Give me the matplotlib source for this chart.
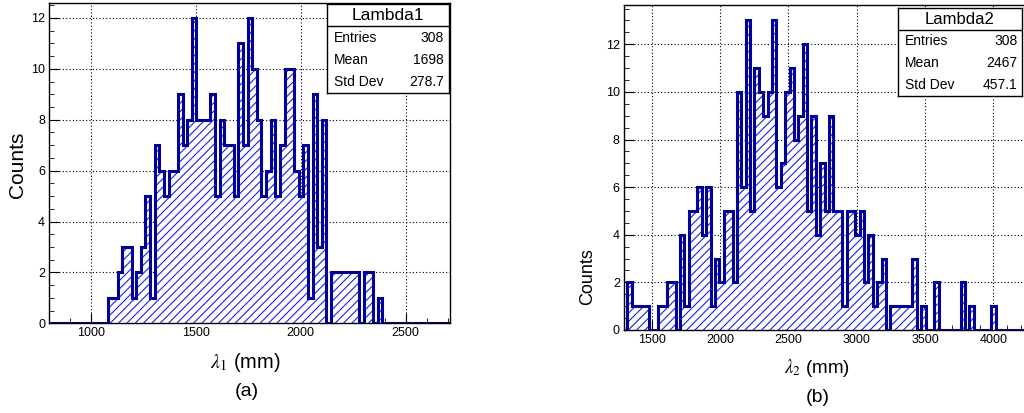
import numpy as np
import matplotlib.pyplot as plt
from matplotlib.ticker import MultipleLocator

plt.rcParams['font.family'] = ['Liberation Sans', 'DejaVu Sans']
plt.rcParams['mathtext.fontset'] = 'stix'
plt.rcParams['hatch.linewidth'] = 0.8

# histogram contents (fixed-width bins)
lam1_start = 1084.0
lam1_width = 22.1
lam1_counts = [1, 1, 2, 3, 3, 1, 2, 3, 5, 1,
               7, 6, 5, 6, 6, 9, 7, 8, 12, 8,
               8, 8, 9, 5, 8, 7, 7, 5, 11, 7,
               12, 10, 8, 5, 6, 8, 5, 7, 10, 10,
               6, 5, 7, 1, 9, 3, 8, 0,
               2, 2, 2, 2, 2, 2, 0, 2, 2, 0, 1]
lam1_range = (803, 2711)
lam1_stats = ['Lambda1', '308', '1698', '278.7']

lam2_start = 1321.0
lam2_width = 32.1
lam2_counts = [2, 1, 1, 1, 1, 0, 0, 1, 1, 2,
               2, 0, 4, 1, 5, 5, 6, 4, 6, 1,
               3, 2, 5, 5, 2, 10, 6, 13, 5, 11,
               10, 9, 10, 13, 6, 7, 10, 11, 8, 9,
               12, 5, 9, 4, 7, 5, 9, 5, 5, 1,
               5, 5, 4, 5, 2, 4, 1, 2, 3, 0,
               1, 1, 1, 1, 1, 3, 0, 1, 0, 0,
               2, 0, 0, 0, 0, 0, 2, 0, 1, 0,
               0, 0, 0, 1]
lam2_range = (1297, 4232)
lam2_stats = ['Lambda2', '308', '2467', '457.1']

stat_names = ['Entries', 'Mean', 'Std Dev']

line_col = '#000099'
hatch_col = '#1f1fe6'

W, H = 1024, 413
fig = plt.figure(figsize=(W / 100, H / 100), dpi=100)


def px_axes(x0, y0, x1, y1):
    '''Axes from pixel box (top-left origin).'''
    return fig.add_axes([x0 / W, 1 - y1 / H, (x1 - x0) / W, (y1 - y0) / H])


def draw_hist(ax, start, width, counts, xr, ymax, tick_size):
    counts = np.array(counts, dtype=float)
    edges = start + width * np.arange(len(counts) + 1)
    # hatched fill
    ax.stairs(counts, edges, fill=True, facecolor='white', edgecolor=hatch_col,
              hatch='////', linewidth=0, zorder=2)
    # outline, running along zero over the full axis range like ROOT
    full_edges = np.concatenate([[xr[0]], edges, [xr[1]]])
    full_counts = np.concatenate([[0], counts, [0]])
    ax.stairs(full_counts, full_edges, color=line_col, linewidth=2.2, zorder=3)
    ax.set_xlim(*xr)
    ax.set_ylim(0, ymax)
    ax.xaxis.set_major_locator(MultipleLocator(500))
    ax.xaxis.set_minor_locator(MultipleLocator(100))
    ax.yaxis.set_major_locator(MultipleLocator(2))
    ax.yaxis.set_minor_locator(MultipleLocator(0.5))
    ax.tick_params(which='both', direction='in', top=False, right=False,
                   labelsize=tick_size, pad=3)
    ax.tick_params(which='major', length=7)
    ax.tick_params(which='minor', length=3.5)
    ax.grid(True, which='major', color='black', linestyle=(0, (1, 2)), linewidth=0.8, zorder=1)
    ax.set_axisbelow(True)
    for s in ax.spines.values():
        s.set_linewidth(1.0)


def draw_stats(box, stats, title_size, row_size):
    ax = px_axes(*box)
    ax.set_xticks([])
    ax.set_yticks([])
    ax.set_xlim(0, 1)
    ax.set_ylim(0, 1)
    for s in ax.spines.values():
        s.set_linewidth(1.0)
    ax.axhline(0.75, color='black', linewidth=1.0)
    ax.text(0.5, 0.875, stats[0], ha='center', va='center', fontsize=title_size)
    for i, name in enumerate(stat_names):
        y = 0.62 - i * 0.25
        ax.text(0.055, y, name, ha='left', va='center', fontsize=row_size)
        ax.text(0.96, y, stats[i + 1], ha='right', va='center', fontsize=row_size)


# left panel
ax1 = px_axes(49.3, 2.7, 450, 323.3)
draw_hist(ax1, lam1_start, lam1_width, lam1_counts, lam1_range, 12.6, 9)
draw_stats((327.3, 4, 449, 92.7), lam1_stats, 12.5, 10)
fig.text(17 / W, 1 - 165 / H, 'Counts', rotation=90, ha='center', va='center', fontsize=15)
fig.text(245 / W, 1 - 362 / H, r'$\lambda_1$ (mm)', ha='center', va='center', fontsize=14.5)
fig.text(247 / W, 1 - 391 / H, '(a)', ha='center', va='center', fontsize=14)

# right panel
ax2 = px_axes(624, 5, 1025, 330)
draw_hist(ax2, lam2_start, lam2_width, lam2_counts, lam2_range, 13.65, 9)
draw_stats((897.7, 8, 1022.3, 96), lam2_stats, 12, 10)
fig.text(588 / W, 1 - 277 / H, 'Counts', rotation=90, ha='center', va='center', fontsize=13)
fig.text(817 / W, 1 - 368 / H, r'$\lambda_2$ (mm)', ha='center', va='center', fontsize=13.5)
fig.text(818 / W, 1 - 397 / H, '(b)', ha='center', va='center', fontsize=14)

fig.savefig('out.png', dpi=100)
